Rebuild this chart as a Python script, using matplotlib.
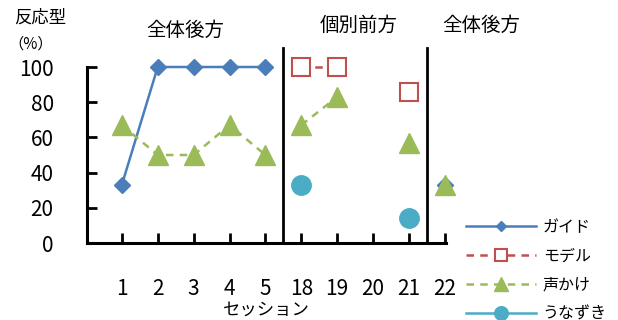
import numpy as np
import matplotlib
matplotlib.use("Agg")
import matplotlib.pyplot as plt

plt.rcParams["font.family"] = ["Noto Sans CJK JP", "DejaVu Sans"]

sessions = ["1", "2", "3", "4", "5", "18", "19", "20", "21", "22"]
guide = [33, 100, 100, 100, 100, np.nan, np.nan, np.nan, np.nan, 33]
model = [np.nan, np.nan, np.nan, np.nan, np.nan, 100, 100, np.nan, 86, np.nan]
voice = [67, 50, 50, 67, 50, 67, 83, np.nan, 57, 33]
nod = [np.nan, np.nan, np.nan, np.nan, np.nan, 33, np.nan, np.nan, 14, np.nan]
series_names = ["ガイド", "モデル", "声かけ", "うなずき"]
phase_names = ["全体後方", "個別前方", "全体後方"]
phases = [(0, 5), (5, 9), (9, 10)]

styles = [
    dict(color="#4A7EBB", ls="-", marker="D", ms=8, mfc="#4A7EBB", mec="#4A7EBB"),
    dict(color="#C0504D", ls=(0, (3, 2.5)), marker="s", ms=13, mfc="white", mec="#C0504D", mew=1.5),
    dict(color="#9BBB59", ls=(0, (3, 2.5)), marker="^", ms=15, mfc="#9BBB59", mec="#9BBB59"),
    dict(color="#4BACC6", ls="-", marker="o", ms=14, mfc="#4BACC6", mec="#4BACC6"),
]

fig = plt.figure(figsize=(6.18, 3.2), dpi=100)
ax = fig.add_axes([87 / 618, 1 - 243 / 320, (446 - 87) / 618, (243 - 67) / 320])

x = np.arange(len(sessions))
handles = []
for vals, st, name in zip([guide, model, voice, nod], styles, series_names):
    vals = np.array(vals, dtype=float)
    for k, (a, b) in enumerate(phases):
        line, = ax.plot(x[a:b], vals[a:b], lw=1.8, clip_on=False, zorder=3, **st)
        if k == 0:
            line.set_label(name)
            handles.append(line)

# phase separators
for sx in [4.5, 8.5]:
    ax.plot([sx, sx], [0, 111], color="black", lw=2, clip_on=False, zorder=2)

ax.set_xlim(-0.97, 9.03)
ax.set_ylim(0, 100)
ax.set_xticks(x)
ax.set_xticklabels(sessions)
ax.set_yticks(range(0, 101, 20))
for s in ["top", "right"]:
    ax.spines[s].set_visible(False)
for s in ["left", "bottom"]:
    ax.spines[s].set_linewidth(2.2)
ax.tick_params(axis="y", direction="in", length=7, width=2, pad=24, labelsize=15)
ax.tick_params(axis="x", direction="in", length=7, width=2, pad=25, labelsize=15)
ax.set_xlabel("セッション", fontsize=12.5, labelpad=1)

fig.text(40 / 618, 1 - 18 / 320, "反応型", ha="center", va="center", fontsize=12.5)
fig.text(31 / 618, 1 - 44 / 320, "（%）", ha="center", va="center", fontsize=11)
for px, py, name in zip([185, 359, 481], [30, 25, 25], phase_names):
    fig.text(px / 618, 1 - py / 320, name, ha="center", va="center", fontsize=14)

fig.legend(handles=handles, loc="upper left", bbox_to_anchor=(466 / 618, 1 - 219 / 320),
           frameon=False, fontsize=11.5, handlelength=4.4, handletextpad=0.4,
           labelspacing=0.75, borderpad=0, borderaxespad=0, markerscale=0.7)

fig.savefig("out.png", dpi=100)
